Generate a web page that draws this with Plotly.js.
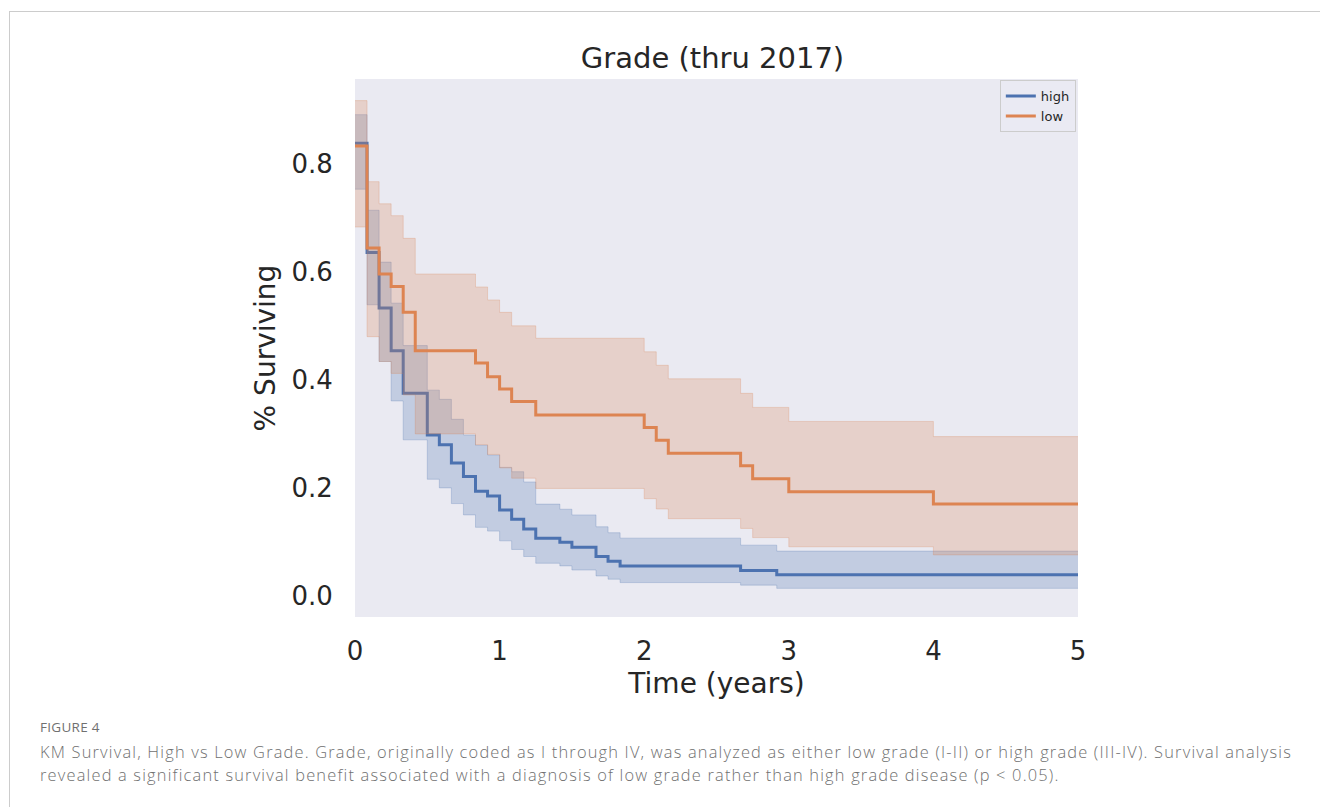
<!DOCTYPE html>
<html>
<head>
<meta charset="utf-8">
<script src="https://cdn.plot.ly/plotly-3.0.1.min.js"></script>
<style>
  html, body { margin:0; padding:0; background:#ffffff; }
  body { width:1320px; height:807px; position:relative; overflow:hidden; }
  #frame { position:absolute; left:9px; top:11px; width:1311px; height:796px;
           border-left:1px solid #cccccc; border-top:1px solid #cccccc; }
  #chart { position:absolute; left:0; top:0; width:1320px; height:807px; }
  .cap { position:absolute; left:40px; font-family:"Open Sans", Lato, sans-serif; color:#707070; white-space:nowrap; }
  #figlabel { top:719px; height:17px; line-height:17px; font-size:13.5px; letter-spacing:0.3px; }
  #capline1 { top:741px; height:22px; line-height:22px; font-size:16.4px; font-weight:300; }
  #capline2 { top:764px; height:22px; line-height:22px; font-size:16.4px; font-weight:300; }
</style>
</head>
<body>
<div id="frame"></div>
<div id="chart"></div>
<div class="cap" id="figlabel">FIGURE 4</div>
<div class="cap" id="capline1">KM Survival, High vs Low Grade. Grade, originally coded as I through IV, was analyzed as either low grade (I-II) or high grade (III-IV). Survival analysis</div>
<div class="cap" id="capline2">revealed a significant survival benefit associated with a diagnosis of low grade rather than high grade disease (p &lt; 0.05).</div>
<script>
// ---- data (time in months; plotted in years) ----
const highMonths = [0,1,2,3,4,6,7,8,9,10,11,12,13,14,15,17,18,20,21,22,32,35,60];
const highSurv   = [0.838,0.636,0.533,0.454,0.375,0.298,0.280,0.246,0.221,0.194,0.185,0.159,0.142,0.124,0.107,0.0995,0.090,0.073,0.064,0.0556,0.047,0.039,0.039];
const highUpper  = [0.891,0.714,0.618,0.542,0.4635,0.381,0.364,0.327,0.298,0.279,0.261,0.238,0.230,0.211,0.170,0.1605,0.150,0.128,0.117,0.107,0.094,0.083,0.083];
const highLower  = [0.753,0.539,0.434,0.361,0.289,0.216,0.200,0.171,0.150,0.127,0.120,0.102,0.086,0.073,0.0605,0.0556,0.048,0.037,0.031,0.0247,0.020,0.014,0.014];

const lowMonths = [0,1,2,3,4,5,10,11,12,13,15,24,25,26,32,33,36,48,60];
const lowSurv   = [0.833,0.644,0.596,0.573,0.525,0.454,0.431,0.406,0.383,0.360,0.335,0.312,0.288,0.264,0.241,0.217,0.193,0.170,0.170];
const lowUpper  = [0.917,0.767,0.726,0.704,0.662,0.596,0.572,0.548,0.525,0.500,0.477,0.452,0.427,0.402,0.375,0.349,0.323,0.295,0.295];
const lowLower  = [0.683,0.480,0.434,0.412,0.372,0.300,0.280,0.262,0.237,0.218,0.199,0.180,0.161,0.143,0.125,0.108,0.091,0.076,0.076];

const seriesNames = ["high", "low"];
const xTicks = [0,1,2,3,4,5];
const yTicks = [0.0,0.2,0.4,0.6,0.8];

const toYears = m => m.map(v => v / 12);
const BLUE = "#4C72B0", ORANGE = "#DD8452";
const BLUE_FILL = "rgba(76,114,176,0.25)", ORANGE_FILL = "rgba(221,132,82,0.25)";

function band(months, lower, upper, fill) {
  const x = toYears(months);
  return [
    {x:x, y:lower, type:"scatter", mode:"lines", line:{shape:"hv", width:1, color:fill},
     showlegend:false, hoverinfo:"skip"},
    {x:x, y:upper, type:"scatter", mode:"lines", line:{shape:"hv", width:1, color:fill},
     fill:"tonexty", fillcolor:fill, showlegend:false, hoverinfo:"skip"}
  ];
}

const traces = [
  ...band(highMonths, highLower, highUpper, BLUE_FILL),
  {x:toYears(highMonths), y:highSurv, type:"scatter", mode:"lines", name:seriesNames[0],
   line:{shape:"hv", width:3, color:BLUE}},
  ...band(lowMonths, lowLower, lowUpper, ORANGE_FILL),
  {x:toYears(lowMonths), y:lowSurv, type:"scatter", mode:"lines", name:seriesNames[1],
   line:{shape:"hv", width:3, color:ORANGE}}
];

const FONT = "DejaVu Sans, sans-serif";
const layout = {
  width:1320, height:807,
  margin:{l:355, r:242, t:79, b:190, pad:0},
  paper_bgcolor:"rgba(0,0,0,0)",
  plot_bgcolor:"#EAEAF2",
  font:{family:FONT, color:"#262626"},
  title:{text:"Grade (thru 2017)", font:{family:FONT, size:29, color:"#262626"},
         x:0.5 - 4/723, xref:"paper", xanchor:"center", y:1-58/807, yref:"container", yanchor:"middle"},
  xaxis:{range:[0,5], tickvals:xTicks, ticktext:xTicks.map(String),
         showgrid:false, zeroline:false, showline:false,
         ticks:"outside", ticklen:11, tickcolor:"rgba(0,0,0,0)",
         tickfont:{family:FONT, size:26, color:"#262626"},
         title:{text:"Time (years)", font:{family:FONT, size:28, color:"#262626"}, standoff:8}},
  yaxis:{range:[-0.039, 0.957], tickvals:yTicks, ticktext:yTicks.map(v=>v.toFixed(1)),
         showgrid:false, zeroline:false, showline:false,
         ticks:"outside", ticklen:16, tickcolor:"rgba(0,0,0,0)",
         tickfont:{family:FONT, size:26, color:"#262626"},
         title:{text:"% Surviving", font:{family:FONT, size:28, color:"#262626"}, standoff:7}},
  legend:{x:0.997, xanchor:"right", y:0.998, yanchor:"top", traceorder:"normal",
          bgcolor:"rgba(234,234,242,0.8)", bordercolor:"#cccccc", borderwidth:1,
          font:{family:FONT, size:13, color:"#262626"}, tracegroupgap:0}
};

Plotly.newPlot("chart", traces, layout, {displayModeBar:false, staticPlot:true});

// fit caption lines to the reference text width via letter spacing
(function fitCaption(){
  const l1 = document.getElementById("capline1");
  const l2 = document.getElementById("capline2");
  const target = 1252;
  const w = l1.getBoundingClientRect().width;
  const ls = (target - w) / l1.textContent.length;
  l1.style.letterSpacing = ls + "px";
  l2.style.letterSpacing = ls + "px";
})();
</script>
</body>
</html>
